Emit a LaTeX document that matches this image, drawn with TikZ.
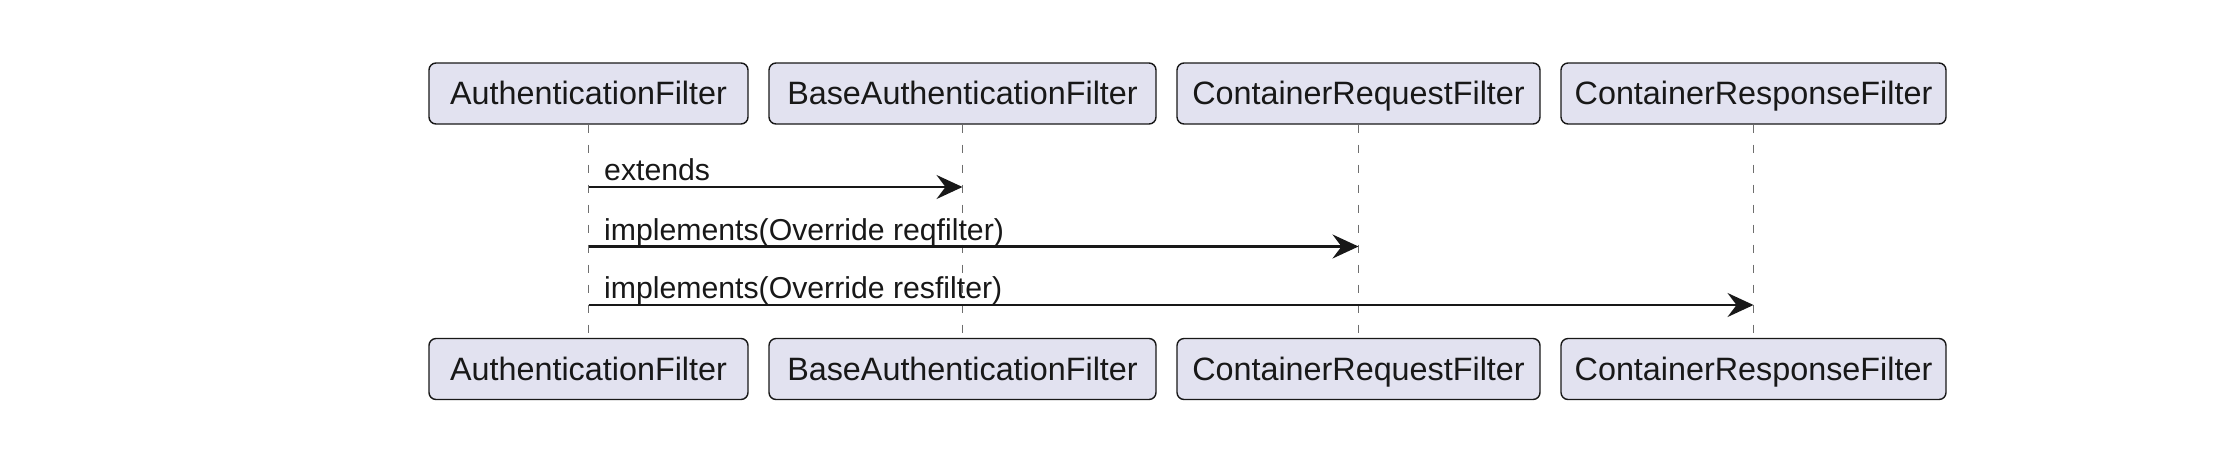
\documentclass[tikz,border=0pt]{standalone}
\usepackage{fontspec}
\setmainfont{Liberation Sans}
\usetikzlibrary{arrows.meta,positioning}
\definecolor{cPart}{HTML}{E2E2F0}
\definecolor{cLine}{HTML}{181818}
\definecolor{cLife}{HTML}{6E6E6E}
\tikzset{
  part/.style={draw=cLine, line width=0.4pt, rounded corners=2pt, fill=cPart,
    align=center, minimum height=6.1mm, inner sep=0pt, text=cLine,
    font=\fontsize{9.2}{11}\selectfont, text height=2.45mm, text depth=0.25mm},
  life/.style={draw=cLife, line width=0.3pt, dash pattern=on 0.8mm off 1.2mm},
  msg/.style={-{Stealth[length=2.6mm, width=2.4mm, inset=0.9mm]}, draw=cLine, line width=0.6pt},
  lbl/.style={anchor=base west, inner sep=0pt, text=cLine,
    font=\fontsize{8.6}{10.3}\selectfont},
}

\begin{document}
\begin{tikzpicture}
    \useasboundingbox (0,0) rectangle (22.34,4.64);
    % participants, top row
    \node[part, minimum width=31.9mm] (authT) at (5.885,3.705) {AuthenticationFilter};
    \node[part, minimum width=38.7mm] (baseT) at (9.625,3.705) {BaseAuthenticationFilter};
    \node[part, minimum width=36.3mm] (reqT) at (13.585,3.705) {ContainerRequestFilter};
    \node[part, minimum width=38.5mm] (resT) at (17.535,3.705) {ContainerResponseFilter};
    % participants, bottom row
    \node[part, minimum width=31.9mm] (authB) at (5.885,0.95) {AuthenticationFilter};
    \node[part, minimum width=38.7mm] (baseB) at (9.625,0.95) {BaseAuthenticationFilter};
    \node[part, minimum width=36.3mm] (reqB) at (13.585,0.95) {ContainerRequestFilter};
    \node[part, minimum width=38.5mm] (resB) at (17.535,0.95) {ContainerResponseFilter};
    % lifelines
    \draw[life] (authT) -- (authB);
    \draw[life] (baseT) -- (baseB);
    \draw[life] (reqT) -- (reqB);
    \draw[life] (resT) -- (resB);
    % messages
    \coordinate (m1a) at (authT.south |- 0,2.77);
    \coordinate (m1b) at (baseT.south |- 0,2.77);
    \coordinate (m2a) at (authT.south |- 0,2.175);
    \coordinate (m2b) at (reqT.south |- 0,2.175);
    \coordinate (m3a) at (authT.south |- 0,1.59);
    \coordinate (m3b) at (resT.south |- 0,1.59);
    \draw[msg] (m1a) -- (m1b);
    \draw[msg] (m2a) -- (m2b);
    \draw[msg] (m3a) -- (m3b);
    \node[lbl] (l1) at ([xshift=1.5mm, yshift=0.65mm]m1a) {extends};
    \node[lbl] (l2) at ([xshift=1.5mm, yshift=0.65mm]m2a) {implements(Override reqfilter)};
    \node[lbl] (l3) at ([xshift=1.5mm, yshift=0.65mm]m3a) {implements(Override resfilter)};
\end{tikzpicture}
\end{document}
